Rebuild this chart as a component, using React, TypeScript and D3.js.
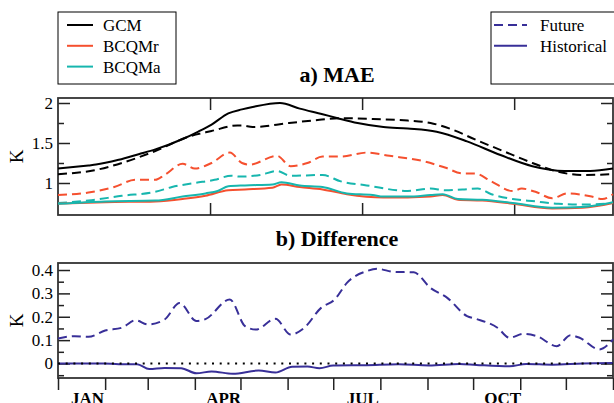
import React, { useEffect, useRef } from 'react';
import * as d3 from 'd3';

type Pt = [number, number];

// day of year, K
const gcmHist: Pt[] = [[0,1.18],[20,1.22],[25,1.23],[40,1.29],[53,1.36],[64,1.42],[82,1.55],[92,1.64],[101,1.73],[112,1.87],[121,1.92],[128,1.95],[146,2.0],[159,1.93],[174,1.86],[184,1.81],[197,1.75],[214,1.7],[230,1.68],[249,1.64],[269,1.52],[291,1.35],[312,1.21],[333,1.15],[350,1.15],[365,1.18]];
const gcmFut: Pt[] = [[0,1.11],[24,1.16],[42,1.25],[64,1.4],[86,1.58],[101,1.65],[118,1.72],[121,1.72],[128,1.7],[152,1.75],[172,1.79],[185,1.81],[207,1.8],[230,1.78],[245,1.75],[259,1.67],[276,1.53],[294,1.39],[312,1.25],[329,1.14],[345,1.1],[365,1.11]];
const bcqmrHist: Pt[] = [[0,0.74],[31,0.76],[64,0.77],[82,0.8],[97,0.84],[112,0.91],[123,0.92],[141,0.94],[147,0.98],[159,0.95],[174,0.92],[190,0.86],[214,0.82],[230,0.82],[245,0.83],[253,0.85],[263,0.79],[279,0.78],[299,0.74],[325,0.68],[345,0.69],[365,0.75]];
const bcqmrFut: Pt[] = [[0,0.85],[20,0.88],[37,0.95],[51,1.04],[64,1.04],[70,1.1],[82,1.24],[90,1.18],[101,1.25],[113,1.38],[121,1.25],[126,1.23],[144,1.34],[153,1.21],[164,1.25],[174,1.33],[186,1.33],[203,1.38],[218,1.34],[241,1.27],[255,1.19],[266,1.12],[274,1.12],[285,1.02],[299,0.9],[305,0.93],[314,0.89],[325,0.81],[335,0.87],[351,0.83],[358,0.8],[365,0.86]];
const bcqmaHist: Pt[] = [[0,0.74],[31,0.77],[64,0.78],[82,0.83],[97,0.87],[105,0.9],[112,0.96],[123,0.97],[141,0.98],[147,1.01],[159,0.97],[174,0.95],[190,0.87],[207,0.85],[214,0.83],[230,0.83],[245,0.85],[253,0.86],[263,0.8],[279,0.79],[299,0.75],[325,0.69],[345,0.7],[365,0.76]];
const bcqmaFut: Pt[] = [[0,0.75],[20,0.78],[42,0.84],[64,0.89],[75,0.95],[90,1.0],[103,1.04],[114,1.09],[120,1.08],[133,1.1],[144,1.15],[153,1.09],[174,1.1],[186,1.02],[203,0.97],[230,0.9],[245,0.93],[255,0.91],[266,0.92],[276,0.93],[285,0.86],[299,0.8],[314,0.77],[329,0.74],[345,0.73],[365,0.75]];

const diffFut: Pt[] = [[0,0.107],[11,0.117],[20,0.114],[31,0.141],[42,0.153],[51,0.185],[59,0.167],[70,0.188],[80,0.259],[91,0.182],[97,0.19],[113,0.274],[123,0.16],[130,0.145],[143,0.191],[153,0.124],[162,0.153],[173,0.238],[182,0.274],[190,0.345],[203,0.395],[210,0.405],[221,0.392],[234,0.39],[245,0.323],[256,0.281],[269,0.203],[275,0.191],[289,0.153],[297,0.11],[306,0.127],[315,0.117],[328,0.074],[337,0.121],[343,0.11],[356,0.06],[365,0.103]];
const diffHist: Pt[] = [[0,0],[30,0],[40,-0.003],[52,-0.003],[60,-0.024],[70,-0.019],[81,-0.02],[91,-0.042],[101,-0.034],[115,-0.044],[132,-0.03],[143,-0.039],[154,-0.014],[164,-0.013],[172,-0.02],[181,-0.009],[203,-0.007],[224,-0.003],[244,-0.008],[264,-0.002],[275,-0.006],[297,-0.012],[308,-0.002],[325,-0.005],[345,0],[365,0.002]];

const monthStarts = [0, 31, 59, 90, 120, 151, 181, 212, 243, 273, 304, 334, 365];
const monthLabels = [['JAN', 0], ['APR', 3], ['JUL', 6], ['OCT', 9]] as const;
const maeMajor = [1, 1.5, 2];
const maeMinor = [1.25, 1.75];
const diffMajor = [0, 0.1, 0.2, 0.3, 0.4];
const diffMinor = [-0.05, 0.05, 0.15, 0.25, 0.35];
const dayTicks = [100, 200, 300];

const RED = '#f5502f';
const TEAL = '#17b6ae';
const NAVY = '#382f98';
const FONT = 'Liberation Serif, DejaVu Serif, serif';

const App = () => {
  const svgRef = useRef<SVGSVGElement>(null);

  useEffect(() => {
    const svg = d3.select(svgRef.current);
    svg.selectAll('*').remove();
    const left = 58;
    const right = 613;
    const x = d3.scaleLinear().domain([0, 365]).range([left, right]);
    const yA = d3.scaleLinear().domain([0.6, 2.0625]).range([215, 98]);
    const yB = d3.scaleLinear().domain([-0.062, 0.43]).range([378, 263]);

    const styleAxis = (g: any) => {
      g.select('.domain').remove();
      g.attr('font-family', null).attr('font-size', null);
      g.selectAll('line').attr('stroke', '#222').attr('stroke-width', 1.5);
      g.selectAll('text').attr('fill', '#000').style('font-family', FONT).style('font-size', '17px');
    };

    const frame = (y: d3.ScaleLinear<number, number>, major: number[], minor: number[]) => {
      const [bottom, top] = y.range();
      svg.append('g').attr('transform', `translate(${left},0)`)
        .call(d3.axisLeft(y).tickValues(major).tickSizeInner(-12).tickSizeOuter(0).tickPadding(5).tickFormat(d3.format('')))
        .call(styleAxis);
      svg.append('g').attr('transform', `translate(${left},0)`)
        .call(d3.axisLeft(y).tickValues(minor).tickSize(-6).tickFormat(() => ''))
        .call(styleAxis);
      svg.append('g').attr('transform', `translate(${right},0)`)
        .call(d3.axisRight(y).tickValues(major).tickSize(-12).tickFormat(() => ''))
        .call(styleAxis);
      svg.append('g').attr('transform', `translate(${right},0)`)
        .call(d3.axisRight(y).tickValues(minor).tickSize(-6).tickFormat(() => ''))
        .call(styleAxis);
      svg.append('rect')
        .attr('x', left).attr('y', top).attr('width', right - left).attr('height', bottom - top)
        .attr('fill', 'none').attr('stroke', '#333').attr('stroke-width', 1.8);
      svg.append('text')
        .attr('transform', `translate(23,${(top + bottom) / 2}) rotate(-90)`)
        .attr('text-anchor', 'middle').style('font-family', FONT).style('font-size', '19px').text('K');
    };

    // panel a
    frame(yA, maeMajor, maeMinor);
    svg.append('g').attr('transform', 'translate(0,98)')
      .call(d3.axisTop(x).tickValues(dayTicks).tickSize(-12).tickFormat(() => '')).call(styleAxis);
    svg.append('g').attr('transform', 'translate(0,215)')
      .call(d3.axisBottom(x).tickValues(dayTicks).tickSize(-12).tickFormat(() => '')).call(styleAxis);

    const lineA = d3.line<Pt>().x((d) => x(d[0])).y((d) => yA(d[1])).curve(d3.curveMonotoneX);
    const seriesA: [Pt[], string, boolean][] = [
      [bcqmrFut, RED, true],
      [bcqmaFut, TEAL, true],
      [bcqmrHist, RED, false],
      [bcqmaHist, TEAL, false],
      [gcmFut, '#000', true],
      [gcmHist, '#000', false],
    ];
    seriesA.forEach(([data, color, dashed]) => {
      svg.append('path').datum(data).attr('d', lineA)
        .attr('fill', 'none').attr('stroke', color).attr('stroke-width', 2)
        .attr('stroke-dasharray', dashed ? '9,5' : null);
    });

    // panel b
    frame(yB, diffMajor, diffMinor);
    svg.append('g').attr('transform', 'translate(0,378)')
      .call(d3.axisBottom(x).tickValues(monthStarts).tickSize(12).tickFormat(() => '')).call(styleAxis);
    monthLabels.forEach(([label, m]) => {
      svg.append('text')
        .attr('x', x((monthStarts[m] + monthStarts[m + 1]) / 2) + 6).attr('y', 404)
        .attr('text-anchor', 'middle').style('font-family', FONT).style('font-weight', 'bold')
        .style('font-size', '17px').text(label);
    });

    const lineB = d3.line<Pt>().x((d) => x(d[0])).y((d) => yB(d[1])).curve(d3.curveMonotoneX);
    svg.append('path').datum(diffHist).attr('d', lineB)
      .attr('fill', 'none').attr('stroke', NAVY).attr('stroke-width', 2);
    svg.append('path').datum(diffFut).attr('d', lineB)
      .attr('fill', 'none').attr('stroke', NAVY).attr('stroke-width', 2).attr('stroke-dasharray', '9,5');
    svg.append('line')
      .attr('x1', left).attr('x2', right).attr('y1', yB(0)).attr('y2', yB(0))
      .attr('stroke', '#000').attr('stroke-width', 2).attr('stroke-dasharray', '2,5.7');

    // titles
    svg.append('text').attr('x', 337).attr('y', 82).attr('text-anchor', 'middle')
      .style('font-family', FONT).style('font-weight', 'bold').style('font-size', '22px').text('a) MAE');
    svg.append('text').attr('x', 337).attr('y', 246).attr('text-anchor', 'middle')
      .style('font-family', FONT).style('font-weight', 'bold').style('font-size', '22px').text('b) Difference');

    // legends
    const legend1 = [['GCM', '#000'], ['BCQMr', RED], ['BCQMa', TEAL]];
    svg.append('rect').attr('x', 58).attr('y', 12).attr('width', 118).attr('height', 72)
      .attr('fill', '#fff').attr('stroke', '#000').attr('stroke-width', 1);
    legend1.forEach(([name, color], i) => {
      const cy = 25 + i * 20.8;
      svg.append('line').attr('x1', 67).attr('x2', 93).attr('y1', cy).attr('y2', cy)
        .attr('stroke', color).attr('stroke-width', 2);
      svg.append('text').attr('x', 103).attr('y', cy + 6).style('font-family', FONT)
        .style('font-size', '17px').text(name);
    });

    const legend2: [string, boolean][] = [['Future', true], ['Historical', false]];
    svg.append('rect').attr('x', 491).attr('y', 12).attr('width', 140).attr('height', 72)
      .attr('fill', '#fff').attr('stroke', '#000').attr('stroke-width', 1);
    legend2.forEach(([name, dashed], i) => {
      const cy = 25 + i * 20.8;
      svg.append('line').attr('x1', 494).attr('x2', 527).attr('y1', cy).attr('y2', cy)
        .attr('stroke', NAVY).attr('stroke-width', 2).attr('stroke-dasharray', dashed ? '9,5' : null);
      svg.append('text').attr('x', 540).attr('y', cy + 6).style('font-family', FONT)
        .style('font-size', '17px').text(name);
    });
  }, []);

  return (
    <svg
      ref={svgRef}
      width={614}
      height={403}
      style={{ position: 'absolute', left: 0, top: 0, background: '#fff', fontFamily: FONT }}
    />
  );
};

export default App;
